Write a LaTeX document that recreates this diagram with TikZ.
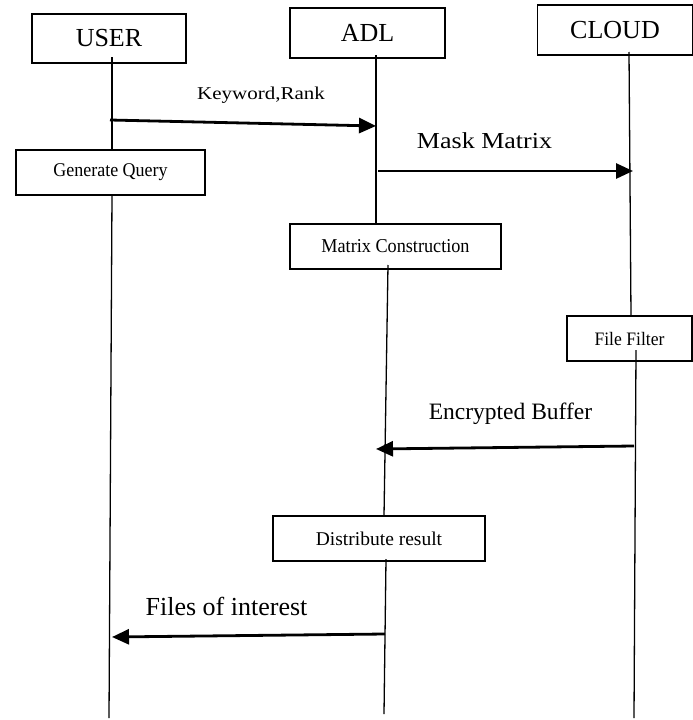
\documentclass[tikz,border=0pt]{standalone}
\usepackage{fontspec}
\setmainfont{Liberation Serif}
\usetikzlibrary{arrows.meta}
\begin{document}
\begin{tikzpicture}[x=1pt,y=-1pt,
  actor/.style={draw,line width=1.8pt,inner sep=0pt,font=\fontsize{26}{30}\selectfont},
  procbox/.style={draw,line width=1.8pt,inner sep=0pt,minimum height=45pt},
  lifeline/.style={line width=1.3pt},
  msg/.style={line width=2.8pt,-{Triangle[length=17pt,width=15pt]}},
  msglabel/.style={anchor=base,inner sep=0pt}]
\useasboundingbox (0,0) rectangle (693,720);
% actors
\node[actor,minimum width=154pt,minimum height=49pt] (user) at (109,38.5) {USER};
\node[actor,minimum width=155pt,minimum height=50pt] (adl) at (367.5,33) {ADL};
\node[actor,minimum width=155pt,minimum height=50pt] (cloud) at (615,30) {CLOUD};
% process boxes
\node[procbox,minimum width=189pt,font=\fontsize{18}{22}\selectfont] (gq) at (110.5,172.5) {\scalebox{1}[1.08]{Generate Query}};
\node[procbox,minimum width=211pt,font=\fontsize{18.2}{22}\selectfont] (mc) at (395.5,246.5) {\scalebox{1}[1.08]{Matrix Construction}};
\node[procbox,minimum width=125pt,font=\fontsize{17.6}{21}\selectfont] (ff) at (629.5,338.5) {\scalebox{1}[1.08]{File Filter}};
\node[procbox,minimum width=212pt,font=\fontsize{19.5}{23}\selectfont] (dr) at (379,538.5) {Distribute result};
% lifeline points
\coordinate (u0) at (112,57);   \coordinate (u1) at (112,150);
\coordinate (u2) at (112,195);  \coordinate (u3) at (109,718);
\coordinate (a0) at (376,55);   \coordinate (a1) at (376,224);
\coordinate (a2) at (388,265);  \coordinate (a3) at (384,516);
\coordinate (a4) at (386,559);  \coordinate (a5) at (384,714);
\coordinate (c0) at (629,52);   \coordinate (c1) at (631,316);
\coordinate (c2) at (636,350);  \coordinate (c3) at (634,718);
\draw[lifeline] (u0) -- (u1);
\draw[lifeline] (u2) -- (u3);
\draw[lifeline] (a0) -- (a1);
\draw[lifeline] (a2) -- (a3);
\draw[lifeline] (a4) -- (a5);
\draw[lifeline] (c0) -- (c1);
\draw[lifeline] (c2) -- (c3);
% messages
\coordinate (m1s) at (110,120); \coordinate (m1e) at (376,126);
\coordinate (m2s) at (378,171); \coordinate (m2e) at (633,171);
\coordinate (m3s) at (634,446); \coordinate (m3e) at (376,449);
\coordinate (m4s) at (385,634); \coordinate (m4e) at (112,637);
\draw[msg] (m1s) -- (m1e);
\draw[msg] (m2s) -- (m2e);
\draw[msg] (m3s) -- (m3e);
\draw[msg] (m4s) -- (m4e);
% labels
\node[msglabel,font=\fontsize{21}{25}\selectfont] (l1) at (261,99) {\scalebox{1}[0.86]{Keyword,Rank}};
\node[msglabel,font=\fontsize{26}{30}\selectfont] (l2) at (484.5,148) {\scalebox{1}[0.88]{Mask Matrix}};
\node[msglabel,font=\fontsize{23.5}{28}\selectfont] (l3) at (510.5,419) {Encrypted Buffer};
\node[msglabel,font=\fontsize{26}{30}\selectfont] (l4) at (226.5,615) {Files of interest};
\end{tikzpicture}
\end{document}
